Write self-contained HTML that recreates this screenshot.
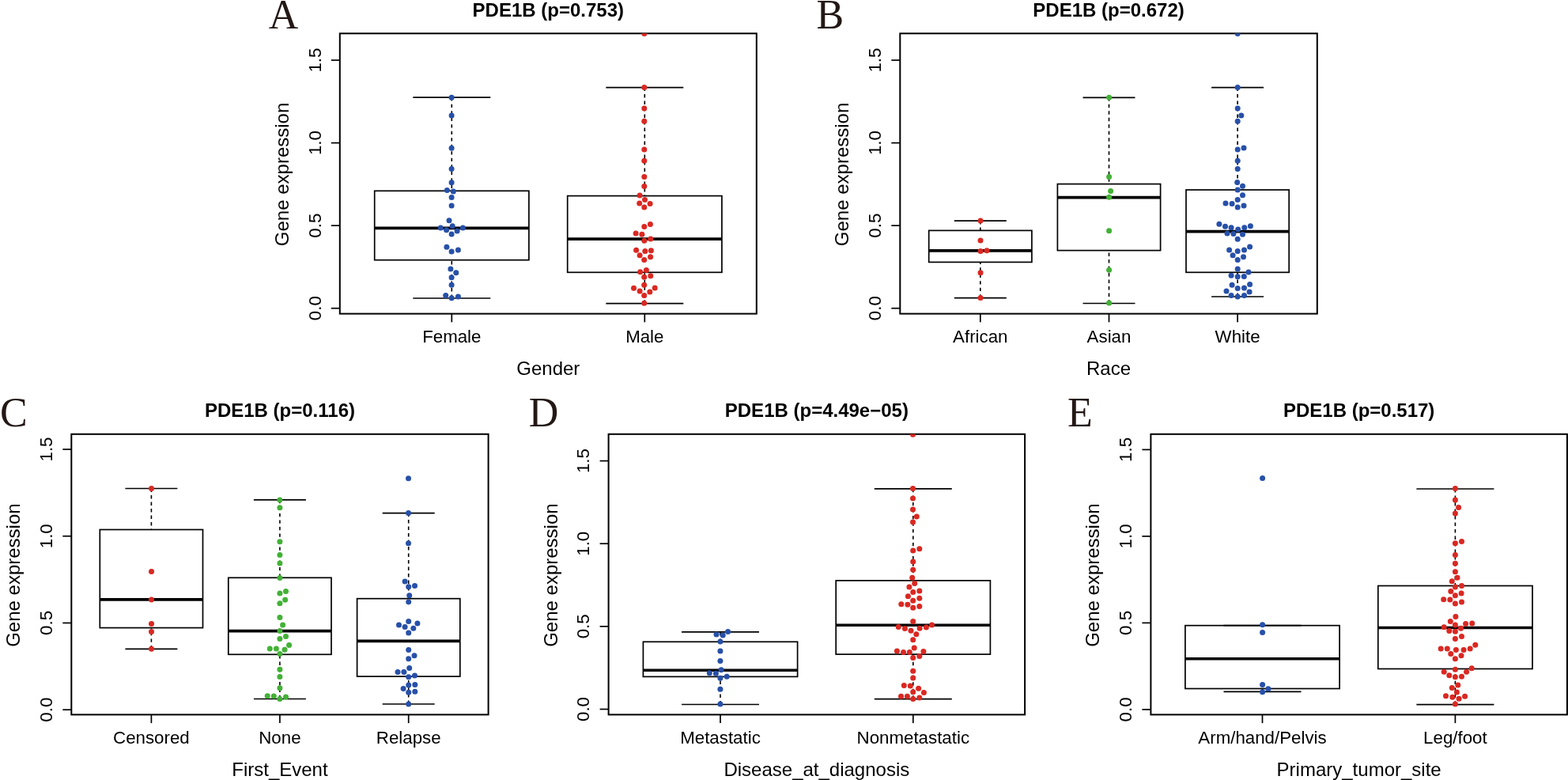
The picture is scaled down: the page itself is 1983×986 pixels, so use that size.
<!DOCTYPE html>
<html><head><meta charset="utf-8"><title>PDE1B boxplots</title>
<style>
html,body{margin:0;padding:0;background:#fff;}
svg{display:block;}
text{font-family:"Liberation Sans", Arial, Helvetica, sans-serif;fill:#000;}
.tl{font-size:22.3px;}
.ax{font-size:24px;}
.mt{font-size:24px;font-weight:bold;}
.lt{font-family:"Liberation Serif", "Times New Roman", serif;font-size:52px;fill:#231815;}
</style></head><body>
<svg width="1983" height="986" viewBox="0 0 1983 986">
<rect width="1983" height="986" fill="#fff"/>
<defs>
<clipPath id="clipA"><rect x="429.8" y="42.3" width="527" height="354.3"/></clipPath>
<clipPath id="clipB"><rect x="1138.3" y="42.3" width="527.5" height="354.3"/></clipPath>
<clipPath id="clipC"><rect x="90.3" y="548.8" width="527.3" height="354.6"/></clipPath>
<clipPath id="clipD"><rect x="769.6" y="548.8" width="526.5" height="354.6"/></clipPath>
<clipPath id="clipE"><rect x="1455.4" y="548.8" width="526.5" height="354.6"/></clipPath>
</defs>
<g id="panelA">
<text class="lt" x="339.7" y="35.5">A</text>
<text class="mt" x="693.3" y="20.7" text-anchor="middle">PDE1B (p=0.753)</text>
<line x1="571.3" y1="123.2" x2="571.3" y2="241.3" stroke="#000" stroke-width="1.6" stroke-dasharray="4.4 4.1"/>
<line x1="571.3" y1="377" x2="571.3" y2="328.7" stroke="#000" stroke-width="1.6" stroke-dasharray="4.4 4.1"/>
<line x1="522.3" y1="123.2" x2="620.3" y2="123.2" stroke="#000" stroke-width="1.7"/>
<line x1="522.3" y1="377" x2="620.3" y2="377" stroke="#000" stroke-width="1.7"/>
<rect x="473.7" y="241.3" width="195.2" height="87.4" fill="none" stroke="#000" stroke-width="1.7"/>
<line x1="473.7" y1="288.4" x2="668.9" y2="288.4" stroke="#000" stroke-width="3.6"/>
<line x1="815.3" y1="110.6" x2="815.3" y2="247.6" stroke="#000" stroke-width="1.6" stroke-dasharray="4.4 4.1"/>
<line x1="815.3" y1="383.7" x2="815.3" y2="344.3" stroke="#000" stroke-width="1.6" stroke-dasharray="4.4 4.1"/>
<line x1="766.3" y1="110.6" x2="864.3" y2="110.6" stroke="#000" stroke-width="1.7"/>
<line x1="766.3" y1="383.7" x2="864.3" y2="383.7" stroke="#000" stroke-width="1.7"/>
<rect x="717.7" y="247.6" width="195.2" height="96.7" fill="none" stroke="#000" stroke-width="1.7"/>
<line x1="717.7" y1="302.1" x2="912.9" y2="302.1" stroke="#000" stroke-width="3.6"/>
<rect x="429.8" y="42.3" width="527" height="354.3" fill="none" stroke="#000" stroke-width="2"/>
<line x1="418.8" y1="389.7" x2="429.8" y2="389.7" stroke="#000" stroke-width="1.7"/>
<text class="tl" transform="translate(405.5,389.7) rotate(-90) scale(1,1.03)" text-anchor="middle">0.0</text>
<line x1="418.8" y1="285.16" x2="429.8" y2="285.16" stroke="#000" stroke-width="1.7"/>
<text class="tl" transform="translate(405.5,285.16) rotate(-90) scale(1,1.03)" text-anchor="middle">0.5</text>
<line x1="418.8" y1="180.63" x2="429.8" y2="180.63" stroke="#000" stroke-width="1.7"/>
<text class="tl" transform="translate(405.5,180.63) rotate(-90) scale(1,1.03)" text-anchor="middle">1.0</text>
<line x1="418.8" y1="76.09" x2="429.8" y2="76.09" stroke="#000" stroke-width="1.7"/>
<text class="tl" transform="translate(405.5,76.09) rotate(-90) scale(1,1.03)" text-anchor="middle">1.5</text>
<line x1="571.3" y1="396.6" x2="571.3" y2="407.3" stroke="#000" stroke-width="1.7"/>
<text class="tl" transform="translate(571.3,433.2) scale(1,1.03)" text-anchor="middle">Female</text>
<line x1="815.3" y1="396.6" x2="815.3" y2="407.3" stroke="#000" stroke-width="1.7"/>
<text class="tl" transform="translate(815.3,433.2) scale(1,1.03)" text-anchor="middle">Male</text>
<text class="ax" x="693.3" y="473.9" text-anchor="middle">Gender</text>
<text class="ax" transform="translate(364.7,220.45) rotate(-90)" text-anchor="middle">Gene expression</text>
<g clip-path="url(#clipA)">
<circle cx="571.1" cy="123.2" r="3.5" fill="#2750a8"/>
<circle cx="571.1" cy="146.1" r="3.5" fill="#2750a8"/>
<circle cx="571.1" cy="187.2" r="3.5" fill="#2750a8"/>
<circle cx="571.1" cy="213.5" r="3.5" fill="#2750a8"/>
<circle cx="571.1" cy="230.7" r="3.5" fill="#2750a8"/>
<circle cx="565.4" cy="240.6" r="3.5" fill="#2750a8"/>
<circle cx="573.3" cy="241.9" r="3.5" fill="#2750a8"/>
<circle cx="571.1" cy="249.4" r="3.5" fill="#2750a8"/>
<circle cx="571.1" cy="260.1" r="3.5" fill="#2750a8"/>
<circle cx="568" cy="278.8" r="3.5" fill="#2750a8"/>
<circle cx="572.2" cy="285.7" r="3.5" fill="#2750a8"/>
<circle cx="557.3" cy="288" r="3.5" fill="#2750a8"/>
<circle cx="585.4" cy="288" r="3.5" fill="#2750a8"/>
<circle cx="564.6" cy="290.7" r="3.5" fill="#2750a8"/>
<circle cx="578.1" cy="292.1" r="3.5" fill="#2750a8"/>
<circle cx="571.1" cy="295.9" r="3.5" fill="#2750a8"/>
<circle cx="564.9" cy="312.3" r="3.5" fill="#2750a8"/>
<circle cx="571.1" cy="317.9" r="3.5" fill="#2750a8"/>
<circle cx="579.4" cy="316.1" r="3.5" fill="#2750a8"/>
<circle cx="569.9" cy="340" r="3.5" fill="#2750a8"/>
<circle cx="576.8" cy="344.7" r="3.5" fill="#2750a8"/>
<circle cx="571.1" cy="350.8" r="3.5" fill="#2750a8"/>
<circle cx="571.1" cy="360.2" r="3.5" fill="#2750a8"/>
<circle cx="563.7" cy="373.6" r="3.5" fill="#2750a8"/>
<circle cx="571.1" cy="376.7" r="3.5" fill="#2750a8"/>
<circle cx="579.4" cy="375" r="3.5" fill="#2750a8"/>
<circle cx="814.8" cy="42.4" r="3.5" fill="#da2822"/>
<circle cx="814.8" cy="110.6" r="3.5" fill="#da2822"/>
<circle cx="814.8" cy="137" r="3.5" fill="#da2822"/>
<circle cx="814.8" cy="153.3" r="3.5" fill="#da2822"/>
<circle cx="814.8" cy="189" r="3.5" fill="#da2822"/>
<circle cx="814.8" cy="203.2" r="3.5" fill="#da2822"/>
<circle cx="814.8" cy="223.6" r="3.5" fill="#da2822"/>
<circle cx="814.8" cy="235.4" r="3.5" fill="#da2822"/>
<circle cx="809.1" cy="246.9" r="3.5" fill="#da2822"/>
<circle cx="815.5" cy="252.6" r="3.5" fill="#da2822"/>
<circle cx="808.7" cy="257.1" r="3.5" fill="#da2822"/>
<circle cx="822.1" cy="257.5" r="3.5" fill="#da2822"/>
<circle cx="814.8" cy="262.1" r="3.5" fill="#da2822"/>
<circle cx="822.4" cy="283.4" r="3.5" fill="#da2822"/>
<circle cx="814.8" cy="286.4" r="3.5" fill="#da2822"/>
<circle cx="804.1" cy="295.1" r="3.5" fill="#da2822"/>
<circle cx="811.9" cy="296.3" r="3.5" fill="#da2822"/>
<circle cx="822.8" cy="302.1" r="3.5" fill="#da2822"/>
<circle cx="814.8" cy="304.2" r="3.5" fill="#da2822"/>
<circle cx="804.6" cy="316.3" r="3.5" fill="#da2822"/>
<circle cx="815.8" cy="317.5" r="3.5" fill="#da2822"/>
<circle cx="823.4" cy="316.8" r="3.5" fill="#da2822"/>
<circle cx="809.1" cy="322.8" r="3.5" fill="#da2822"/>
<circle cx="822.6" cy="324.8" r="3.5" fill="#da2822"/>
<circle cx="814.7" cy="328.6" r="3.5" fill="#da2822"/>
<circle cx="809.6" cy="343.8" r="3.5" fill="#da2822"/>
<circle cx="817.4" cy="341.4" r="3.5" fill="#da2822"/>
<circle cx="814.7" cy="350.2" r="3.5" fill="#da2822"/>
<circle cx="822.8" cy="348.7" r="3.5" fill="#da2822"/>
<circle cx="814.7" cy="360.3" r="3.5" fill="#da2822"/>
<circle cx="801.5" cy="364.2" r="3.5" fill="#da2822"/>
<circle cx="828.2" cy="363.9" r="3.5" fill="#da2822"/>
<circle cx="809.1" cy="368" r="3.5" fill="#da2822"/>
<circle cx="821.8" cy="369" r="3.5" fill="#da2822"/>
<circle cx="814.7" cy="373.5" r="3.5" fill="#da2822"/>
<circle cx="814.7" cy="383.2" r="3.5" fill="#da2822"/>
</g>
</g>
<g id="panelB">
<text class="lt" x="1032.5" y="35.8">B</text>
<text class="mt" x="1402.05" y="20.7" text-anchor="middle">PDE1B (p=0.672)</text>
<line x1="1239.8" y1="279.1" x2="1239.8" y2="291.4" stroke="#000" stroke-width="1.6" stroke-dasharray="4.4 4.1"/>
<line x1="1239.8" y1="376.6" x2="1239.8" y2="331.4" stroke="#000" stroke-width="1.6" stroke-dasharray="4.4 4.1"/>
<line x1="1206.8" y1="279.1" x2="1272.8" y2="279.1" stroke="#000" stroke-width="1.7"/>
<line x1="1206.8" y1="376.6" x2="1272.8" y2="376.6" stroke="#000" stroke-width="1.7"/>
<rect x="1174.7" y="291.4" width="130.2" height="40" fill="none" stroke="#000" stroke-width="1.7"/>
<line x1="1174.7" y1="316.9" x2="1304.9" y2="316.9" stroke="#000" stroke-width="3.6"/>
<line x1="1402.5" y1="123.3" x2="1402.5" y2="232.6" stroke="#000" stroke-width="1.6" stroke-dasharray="4.4 4.1"/>
<line x1="1402.5" y1="383.5" x2="1402.5" y2="316.6" stroke="#000" stroke-width="1.6" stroke-dasharray="4.4 4.1"/>
<line x1="1369.5" y1="123.3" x2="1435.5" y2="123.3" stroke="#000" stroke-width="1.7"/>
<line x1="1369.5" y1="383.5" x2="1435.5" y2="383.5" stroke="#000" stroke-width="1.7"/>
<rect x="1337.4" y="232.6" width="130.2" height="84" fill="none" stroke="#000" stroke-width="1.7"/>
<line x1="1337.4" y1="249.6" x2="1467.6" y2="249.6" stroke="#000" stroke-width="3.6"/>
<line x1="1565.1" y1="110.6" x2="1565.1" y2="240" stroke="#000" stroke-width="1.6" stroke-dasharray="4.4 4.1"/>
<line x1="1565.1" y1="375" x2="1565.1" y2="344.3" stroke="#000" stroke-width="1.6" stroke-dasharray="4.4 4.1"/>
<line x1="1532.1" y1="110.6" x2="1598.1" y2="110.6" stroke="#000" stroke-width="1.7"/>
<line x1="1532.1" y1="375" x2="1598.1" y2="375" stroke="#000" stroke-width="1.7"/>
<rect x="1500" y="240" width="130.2" height="104.3" fill="none" stroke="#000" stroke-width="1.7"/>
<line x1="1500" y1="292.6" x2="1630.2" y2="292.6" stroke="#000" stroke-width="3.6"/>
<rect x="1138.3" y="42.3" width="527.5" height="354.3" fill="none" stroke="#000" stroke-width="2"/>
<line x1="1127.3" y1="389.7" x2="1138.3" y2="389.7" stroke="#000" stroke-width="1.7"/>
<text class="tl" transform="translate(1114,389.7) rotate(-90) scale(1,1.03)" text-anchor="middle">0.0</text>
<line x1="1127.3" y1="285.16" x2="1138.3" y2="285.16" stroke="#000" stroke-width="1.7"/>
<text class="tl" transform="translate(1114,285.16) rotate(-90) scale(1,1.03)" text-anchor="middle">0.5</text>
<line x1="1127.3" y1="180.63" x2="1138.3" y2="180.63" stroke="#000" stroke-width="1.7"/>
<text class="tl" transform="translate(1114,180.63) rotate(-90) scale(1,1.03)" text-anchor="middle">1.0</text>
<line x1="1127.3" y1="76.09" x2="1138.3" y2="76.09" stroke="#000" stroke-width="1.7"/>
<text class="tl" transform="translate(1114,76.09) rotate(-90) scale(1,1.03)" text-anchor="middle">1.5</text>
<line x1="1239.8" y1="396.6" x2="1239.8" y2="407.3" stroke="#000" stroke-width="1.7"/>
<text class="tl" transform="translate(1239.8,433.2) scale(1,1.03)" text-anchor="middle">African</text>
<line x1="1402.5" y1="396.6" x2="1402.5" y2="407.3" stroke="#000" stroke-width="1.7"/>
<text class="tl" transform="translate(1402.5,433.2) scale(1,1.03)" text-anchor="middle">Asian</text>
<line x1="1565.1" y1="396.6" x2="1565.1" y2="407.3" stroke="#000" stroke-width="1.7"/>
<text class="tl" transform="translate(1565.1,433.2) scale(1,1.03)" text-anchor="middle">White</text>
<text class="ax" x="1402.05" y="473.9" text-anchor="middle">Race</text>
<text class="ax" transform="translate(1073.2,220.45) rotate(-90)" text-anchor="middle">Gene expression</text>
<g clip-path="url(#clipB)">
<circle cx="1240" cy="279.1" r="3.5" fill="#da2822"/>
<circle cx="1240" cy="304.1" r="3.5" fill="#da2822"/>
<circle cx="1240" cy="317.6" r="3.5" fill="#da2822"/>
<circle cx="1248" cy="316.7" r="3.5" fill="#da2822"/>
<circle cx="1240" cy="344.7" r="3.5" fill="#da2822"/>
<circle cx="1240" cy="376.6" r="3.5" fill="#da2822"/>
<circle cx="1402.6" cy="123.2" r="3.5" fill="#43b136"/>
<circle cx="1402.6" cy="223.5" r="3.5" fill="#43b136"/>
<circle cx="1404.6" cy="241.6" r="3.5" fill="#43b136"/>
<circle cx="1402.6" cy="249.3" r="3.5" fill="#43b136"/>
<circle cx="1402.6" cy="291.8" r="3.5" fill="#43b136"/>
<circle cx="1402.6" cy="341.2" r="3.5" fill="#43b136"/>
<circle cx="1402.6" cy="382.9" r="3.5" fill="#43b136"/>
<circle cx="1565.2" cy="42.4" r="3.5" fill="#2750a8"/>
<circle cx="1565.2" cy="110.6" r="3.5" fill="#2750a8"/>
<circle cx="1565.2" cy="137" r="3.5" fill="#2750a8"/>
<circle cx="1569.8" cy="146.1" r="3.5" fill="#2750a8"/>
<circle cx="1565.2" cy="153.3" r="3.5" fill="#2750a8"/>
<circle cx="1565.2" cy="189.1" r="3.5" fill="#2750a8"/>
<circle cx="1573" cy="187" r="3.5" fill="#2750a8"/>
<circle cx="1565.2" cy="203.3" r="3.5" fill="#2750a8"/>
<circle cx="1565.2" cy="213.4" r="3.5" fill="#2750a8"/>
<circle cx="1564.7" cy="230.6" r="3.5" fill="#2750a8"/>
<circle cx="1571.5" cy="235.2" r="3.5" fill="#2750a8"/>
<circle cx="1565.2" cy="240" r="3.5" fill="#2750a8"/>
<circle cx="1571.5" cy="246.8" r="3.5" fill="#2750a8"/>
<circle cx="1565.2" cy="252.4" r="3.5" fill="#2750a8"/>
<circle cx="1550" cy="256.9" r="3.5" fill="#2750a8"/>
<circle cx="1558.1" cy="257.4" r="3.5" fill="#2750a8"/>
<circle cx="1565.2" cy="261.9" r="3.5" fill="#2750a8"/>
<circle cx="1573" cy="260" r="3.5" fill="#2750a8"/>
<circle cx="1541.9" cy="283.3" r="3.5" fill="#2750a8"/>
<circle cx="1549.5" cy="286.2" r="3.5" fill="#2750a8"/>
<circle cx="1557.1" cy="287.7" r="3.5" fill="#2750a8"/>
<circle cx="1565.7" cy="290.1" r="3.5" fill="#2750a8"/>
<circle cx="1573.8" cy="287.7" r="3.5" fill="#2750a8"/>
<circle cx="1581.4" cy="285.7" r="3.5" fill="#2750a8"/>
<circle cx="1552" cy="295.1" r="3.5" fill="#2750a8"/>
<circle cx="1559.9" cy="295.4" r="3.5" fill="#2750a8"/>
<circle cx="1571.5" cy="296.3" r="3.5" fill="#2750a8"/>
<circle cx="1565.2" cy="302.3" r="3.5" fill="#2750a8"/>
<circle cx="1554.6" cy="316.1" r="3.5" fill="#2750a8"/>
<circle cx="1565.2" cy="317.5" r="3.5" fill="#2750a8"/>
<circle cx="1573.5" cy="316.1" r="3.5" fill="#2750a8"/>
<circle cx="1580.6" cy="312.1" r="3.5" fill="#2750a8"/>
<circle cx="1559.1" cy="322.8" r="3.5" fill="#2750a8"/>
<circle cx="1572.5" cy="324.7" r="3.5" fill="#2750a8"/>
<circle cx="1565.2" cy="328.4" r="3.5" fill="#2750a8"/>
<circle cx="1565.2" cy="339.9" r="3.5" fill="#2750a8"/>
<circle cx="1579" cy="343.9" r="3.5" fill="#2750a8"/>
<circle cx="1557.1" cy="348.3" r="3.5" fill="#2750a8"/>
<circle cx="1565.2" cy="349.8" r="3.5" fill="#2750a8"/>
<circle cx="1573.3" cy="349.4" r="3.5" fill="#2750a8"/>
<circle cx="1558.1" cy="360.3" r="3.5" fill="#2750a8"/>
<circle cx="1565.2" cy="364.4" r="3.5" fill="#2750a8"/>
<circle cx="1573.5" cy="363.9" r="3.5" fill="#2750a8"/>
<circle cx="1580.6" cy="359.6" r="3.5" fill="#2750a8"/>
<circle cx="1551" cy="368" r="3.5" fill="#2750a8"/>
<circle cx="1580.1" cy="369" r="3.5" fill="#2750a8"/>
<circle cx="1557.1" cy="373.5" r="3.5" fill="#2750a8"/>
<circle cx="1565.2" cy="375" r="3.5" fill="#2750a8"/>
<circle cx="1573.5" cy="373.5" r="3.5" fill="#2750a8"/>
</g>
</g>
<g id="panelC">
<text class="lt" x="-0.1" y="539.4">C</text>
<text class="mt" x="353.95" y="527.2" text-anchor="middle">PDE1B (p=0.116)</text>
<line x1="191.4" y1="617.5" x2="191.4" y2="669.5" stroke="#000" stroke-width="1.6" stroke-dasharray="4.4 4.1"/>
<line x1="191.4" y1="820.3" x2="191.4" y2="793.6" stroke="#000" stroke-width="1.6" stroke-dasharray="4.4 4.1"/>
<line x1="158.4" y1="617.5" x2="224.4" y2="617.5" stroke="#000" stroke-width="1.7"/>
<line x1="158.4" y1="820.3" x2="224.4" y2="820.3" stroke="#000" stroke-width="1.7"/>
<rect x="126.3" y="669.5" width="130.2" height="124.1" fill="none" stroke="#000" stroke-width="1.7"/>
<line x1="126.3" y1="757.9" x2="256.5" y2="757.9" stroke="#000" stroke-width="3.6"/>
<line x1="353.9" y1="631.9" x2="353.9" y2="730.3" stroke="#000" stroke-width="1.6" stroke-dasharray="4.4 4.1"/>
<line x1="353.9" y1="883.5" x2="353.9" y2="827.3" stroke="#000" stroke-width="1.6" stroke-dasharray="4.4 4.1"/>
<line x1="320.9" y1="631.9" x2="386.9" y2="631.9" stroke="#000" stroke-width="1.7"/>
<line x1="320.9" y1="883.5" x2="386.9" y2="883.5" stroke="#000" stroke-width="1.7"/>
<rect x="288.8" y="730.3" width="130.2" height="97" fill="none" stroke="#000" stroke-width="1.7"/>
<line x1="288.8" y1="797.6" x2="419" y2="797.6" stroke="#000" stroke-width="3.6"/>
<line x1="516.7" y1="648.6" x2="516.7" y2="756.7" stroke="#000" stroke-width="1.6" stroke-dasharray="4.4 4.1"/>
<line x1="516.7" y1="890" x2="516.7" y2="855.1" stroke="#000" stroke-width="1.6" stroke-dasharray="4.4 4.1"/>
<line x1="483.7" y1="648.6" x2="549.7" y2="648.6" stroke="#000" stroke-width="1.7"/>
<line x1="483.7" y1="890" x2="549.7" y2="890" stroke="#000" stroke-width="1.7"/>
<rect x="451.6" y="756.7" width="130.2" height="98.4" fill="none" stroke="#000" stroke-width="1.7"/>
<line x1="451.6" y1="810.4" x2="581.8" y2="810.4" stroke="#000" stroke-width="3.6"/>
<rect x="90.3" y="548.8" width="527.3" height="354.6" fill="none" stroke="#000" stroke-width="2"/>
<line x1="79.3" y1="897.2" x2="90.3" y2="897.2" stroke="#000" stroke-width="1.7"/>
<text class="tl" transform="translate(66,897.2) rotate(-90) scale(1,1.03)" text-anchor="middle">0.0</text>
<line x1="79.3" y1="787.47" x2="90.3" y2="787.47" stroke="#000" stroke-width="1.7"/>
<text class="tl" transform="translate(66,787.47) rotate(-90) scale(1,1.03)" text-anchor="middle">0.5</text>
<line x1="79.3" y1="677.73" x2="90.3" y2="677.73" stroke="#000" stroke-width="1.7"/>
<text class="tl" transform="translate(66,677.73) rotate(-90) scale(1,1.03)" text-anchor="middle">1.0</text>
<line x1="79.3" y1="568" x2="90.3" y2="568" stroke="#000" stroke-width="1.7"/>
<text class="tl" transform="translate(66,568) rotate(-90) scale(1,1.03)" text-anchor="middle">1.5</text>
<line x1="191.4" y1="903.4" x2="191.4" y2="914.1" stroke="#000" stroke-width="1.7"/>
<text class="tl" transform="translate(191.4,940) scale(1,1.03)" text-anchor="middle">Censored</text>
<line x1="353.9" y1="903.4" x2="353.9" y2="914.1" stroke="#000" stroke-width="1.7"/>
<text class="tl" transform="translate(353.9,940) scale(1,1.03)" text-anchor="middle">None</text>
<line x1="516.7" y1="903.4" x2="516.7" y2="914.1" stroke="#000" stroke-width="1.7"/>
<text class="tl" transform="translate(516.7,940) scale(1,1.03)" text-anchor="middle">Relapse</text>
<text class="ax" x="353.95" y="980.7" text-anchor="middle">First_Event</text>
<text class="ax" transform="translate(25.2,727.1) rotate(-90)" text-anchor="middle">Gene expression</text>
<g clip-path="url(#clipC)">
<circle cx="191.5" cy="617.5" r="3.5" fill="#da2822"/>
<circle cx="191.5" cy="722.4" r="3.5" fill="#da2822"/>
<circle cx="191.5" cy="757.9" r="3.5" fill="#da2822"/>
<circle cx="191.5" cy="788.4" r="3.5" fill="#da2822"/>
<circle cx="191.5" cy="798.4" r="3.5" fill="#da2822"/>
<circle cx="191.5" cy="820.3" r="3.5" fill="#da2822"/>
<circle cx="353.9" cy="631.9" r="3.5" fill="#43b136"/>
<circle cx="353.9" cy="641.8" r="3.5" fill="#43b136"/>
<circle cx="353.9" cy="684.7" r="3.5" fill="#43b136"/>
<circle cx="353.9" cy="701.4" r="3.5" fill="#43b136"/>
<circle cx="353.9" cy="712.1" r="3.5" fill="#43b136"/>
<circle cx="353.9" cy="730.4" r="3.5" fill="#43b136"/>
<circle cx="353.9" cy="750.1" r="3.5" fill="#43b136"/>
<circle cx="361.5" cy="747.5" r="3.5" fill="#43b136"/>
<circle cx="360.6" cy="758.2" r="3.5" fill="#43b136"/>
<circle cx="353.9" cy="762.8" r="3.5" fill="#43b136"/>
<circle cx="353.9" cy="780.4" r="3.5" fill="#43b136"/>
<circle cx="357.6" cy="790" r="3.5" fill="#43b136"/>
<circle cx="353.9" cy="797.6" r="3.5" fill="#43b136"/>
<circle cx="353.9" cy="807.4" r="3.5" fill="#43b136"/>
<circle cx="361.5" cy="804.5" r="3.5" fill="#43b136"/>
<circle cx="365.6" cy="815.4" r="3.5" fill="#43b136"/>
<circle cx="341.3" cy="820" r="3.5" fill="#43b136"/>
<circle cx="349.4" cy="820" r="3.5" fill="#43b136"/>
<circle cx="360" cy="821.2" r="3.5" fill="#43b136"/>
<circle cx="353.9" cy="826.6" r="3.5" fill="#43b136"/>
<circle cx="353.9" cy="846.3" r="3.5" fill="#43b136"/>
<circle cx="353.9" cy="855.5" r="3.5" fill="#43b136"/>
<circle cx="353.9" cy="869.8" r="3.5" fill="#43b136"/>
<circle cx="338.2" cy="879.8" r="3.5" fill="#43b136"/>
<circle cx="346.3" cy="880.1" r="3.5" fill="#43b136"/>
<circle cx="353.9" cy="883.6" r="3.5" fill="#43b136"/>
<circle cx="361.5" cy="880.9" r="3.5" fill="#43b136"/>
<circle cx="516.5" cy="604.8" r="3.5" fill="#2750a8"/>
<circle cx="516.5" cy="648.6" r="3.5" fill="#2750a8"/>
<circle cx="516.5" cy="686.7" r="3.5" fill="#2750a8"/>
<circle cx="512.1" cy="735" r="3.5" fill="#2750a8"/>
<circle cx="516.7" cy="741.8" r="3.5" fill="#2750a8"/>
<circle cx="524.5" cy="740.6" r="3.5" fill="#2750a8"/>
<circle cx="517.7" cy="752.7" r="3.5" fill="#2750a8"/>
<circle cx="516.7" cy="760.9" r="3.5" fill="#2750a8"/>
<circle cx="516.7" cy="785.4" r="3.5" fill="#2750a8"/>
<circle cx="504.5" cy="790" r="3.5" fill="#2750a8"/>
<circle cx="527.9" cy="788" r="3.5" fill="#2750a8"/>
<circle cx="512.1" cy="792.5" r="3.5" fill="#2750a8"/>
<circle cx="522.8" cy="794.3" r="3.5" fill="#2750a8"/>
<circle cx="516.7" cy="800" r="3.5" fill="#2750a8"/>
<circle cx="516.7" cy="821.5" r="3.5" fill="#2750a8"/>
<circle cx="524" cy="828.7" r="3.5" fill="#2750a8"/>
<circle cx="516.7" cy="832.7" r="3.5" fill="#2750a8"/>
<circle cx="517.7" cy="844.6" r="3.5" fill="#2750a8"/>
<circle cx="503" cy="849.4" r="3.5" fill="#2750a8"/>
<circle cx="510.9" cy="849.4" r="3.5" fill="#2750a8"/>
<circle cx="516.7" cy="855.8" r="3.5" fill="#2750a8"/>
<circle cx="524.5" cy="854.1" r="3.5" fill="#2750a8"/>
<circle cx="516.7" cy="865.9" r="3.5" fill="#2750a8"/>
<circle cx="524.8" cy="865.6" r="3.5" fill="#2750a8"/>
<circle cx="510.1" cy="870.5" r="3.5" fill="#2750a8"/>
<circle cx="516.7" cy="875.3" r="3.5" fill="#2750a8"/>
<circle cx="524.8" cy="874.3" r="3.5" fill="#2750a8"/>
<circle cx="516.7" cy="890" r="3.5" fill="#2750a8"/>
</g>
</g>
<g id="panelD">
<text class="lt" x="668.7" y="538.6">D</text>
<text class="mt" x="1032.85" y="527.2" text-anchor="middle">PDE1B (p=4.49e−05)</text>
<line x1="911" y1="798.9" x2="911" y2="811.3" stroke="#000" stroke-width="1.6" stroke-dasharray="4.4 4.1"/>
<line x1="911" y1="890.5" x2="911" y2="855.4" stroke="#000" stroke-width="1.6" stroke-dasharray="4.4 4.1"/>
<line x1="862" y1="798.9" x2="960" y2="798.9" stroke="#000" stroke-width="1.7"/>
<line x1="862" y1="890.5" x2="960" y2="890.5" stroke="#000" stroke-width="1.7"/>
<rect x="813.4" y="811.3" width="195.2" height="44.1" fill="none" stroke="#000" stroke-width="1.7"/>
<line x1="813.4" y1="847.2" x2="1008.6" y2="847.2" stroke="#000" stroke-width="3.6"/>
<line x1="1154.8" y1="617.9" x2="1154.8" y2="733.9" stroke="#000" stroke-width="1.6" stroke-dasharray="4.4 4.1"/>
<line x1="1154.8" y1="883.7" x2="1154.8" y2="827.1" stroke="#000" stroke-width="1.6" stroke-dasharray="4.4 4.1"/>
<line x1="1105.8" y1="617.9" x2="1203.8" y2="617.9" stroke="#000" stroke-width="1.7"/>
<line x1="1105.8" y1="883.7" x2="1203.8" y2="883.7" stroke="#000" stroke-width="1.7"/>
<rect x="1057.2" y="733.9" width="195.2" height="93.2" fill="none" stroke="#000" stroke-width="1.7"/>
<line x1="1057.2" y1="790.3" x2="1252.4" y2="790.3" stroke="#000" stroke-width="3.6"/>
<rect x="769.6" y="548.8" width="526.5" height="354.6" fill="none" stroke="#000" stroke-width="2"/>
<line x1="758.6" y1="896.5" x2="769.6" y2="896.5" stroke="#000" stroke-width="1.7"/>
<text class="tl" transform="translate(745.3,896.5) rotate(-90) scale(1,1.03)" text-anchor="middle">0.0</text>
<line x1="758.6" y1="791.87" x2="769.6" y2="791.87" stroke="#000" stroke-width="1.7"/>
<text class="tl" transform="translate(745.3,791.87) rotate(-90) scale(1,1.03)" text-anchor="middle">0.5</text>
<line x1="758.6" y1="687.23" x2="769.6" y2="687.23" stroke="#000" stroke-width="1.7"/>
<text class="tl" transform="translate(745.3,687.23) rotate(-90) scale(1,1.03)" text-anchor="middle">1.0</text>
<line x1="758.6" y1="582.6" x2="769.6" y2="582.6" stroke="#000" stroke-width="1.7"/>
<text class="tl" transform="translate(745.3,582.6) rotate(-90) scale(1,1.03)" text-anchor="middle">1.5</text>
<line x1="911" y1="903.4" x2="911" y2="914.1" stroke="#000" stroke-width="1.7"/>
<text class="tl" transform="translate(911,940) scale(1,1.03)" text-anchor="middle">Metastatic</text>
<line x1="1154.8" y1="903.4" x2="1154.8" y2="914.1" stroke="#000" stroke-width="1.7"/>
<text class="tl" transform="translate(1154.8,940) scale(1,1.03)" text-anchor="middle">Nonmetastatic</text>
<text class="ax" x="1032.85" y="980.7" text-anchor="middle">Disease_at_diagnosis</text>
<text class="ax" transform="translate(704.5,727.1) rotate(-90)" text-anchor="middle">Gene expression</text>
<g clip-path="url(#clipD)">
<circle cx="920.6" cy="798.6" r="3.5" fill="#2750a8"/>
<circle cx="906" cy="802.1" r="3.5" fill="#2750a8"/>
<circle cx="914.2" cy="803.1" r="3.5" fill="#2750a8"/>
<circle cx="910.9" cy="811" r="3.5" fill="#2750a8"/>
<circle cx="910.9" cy="822.9" r="3.5" fill="#2750a8"/>
<circle cx="910.9" cy="835.4" r="3.5" fill="#2750a8"/>
<circle cx="912.1" cy="846.7" r="3.5" fill="#2750a8"/>
<circle cx="897.3" cy="850.8" r="3.5" fill="#2750a8"/>
<circle cx="905.4" cy="851.2" r="3.5" fill="#2750a8"/>
<circle cx="910.9" cy="857.3" r="3.5" fill="#2750a8"/>
<circle cx="919.2" cy="855.2" r="3.5" fill="#2750a8"/>
<circle cx="910.9" cy="871.2" r="3.5" fill="#2750a8"/>
<circle cx="910.9" cy="889.9" r="3.5" fill="#2750a8"/>
<circle cx="1154.5" cy="549.3" r="3.5" fill="#da2822"/>
<circle cx="1154.5" cy="617.6" r="3.5" fill="#da2822"/>
<circle cx="1154.5" cy="630.1" r="3.5" fill="#da2822"/>
<circle cx="1154.5" cy="644" r="3.5" fill="#da2822"/>
<circle cx="1159.3" cy="652.9" r="3.5" fill="#da2822"/>
<circle cx="1154.5" cy="659.9" r="3.5" fill="#da2822"/>
<circle cx="1154.7" cy="695.9" r="3.5" fill="#da2822"/>
<circle cx="1162.8" cy="693.8" r="3.5" fill="#da2822"/>
<circle cx="1154.7" cy="710.1" r="3.5" fill="#da2822"/>
<circle cx="1154.7" cy="720.2" r="3.5" fill="#da2822"/>
<circle cx="1153.7" cy="730.3" r="3.5" fill="#da2822"/>
<circle cx="1156.7" cy="737.4" r="3.5" fill="#da2822"/>
<circle cx="1149.9" cy="742" r="3.5" fill="#da2822"/>
<circle cx="1154.7" cy="748.4" r="3.5" fill="#da2822"/>
<circle cx="1162.8" cy="747.1" r="3.5" fill="#da2822"/>
<circle cx="1148.4" cy="753.8" r="3.5" fill="#da2822"/>
<circle cx="1162.8" cy="756.2" r="3.5" fill="#da2822"/>
<circle cx="1154.7" cy="759.2" r="3.5" fill="#da2822"/>
<circle cx="1139.8" cy="763.8" r="3.5" fill="#da2822"/>
<circle cx="1147.9" cy="764.3" r="3.5" fill="#da2822"/>
<circle cx="1154.7" cy="768.3" r="3.5" fill="#da2822"/>
<circle cx="1162.8" cy="766.5" r="3.5" fill="#da2822"/>
<circle cx="1154.7" cy="785.5" r="3.5" fill="#da2822"/>
<circle cx="1136.2" cy="792.6" r="3.5" fill="#da2822"/>
<circle cx="1144.4" cy="794.4" r="3.5" fill="#da2822"/>
<circle cx="1152" cy="797.2" r="3.5" fill="#da2822"/>
<circle cx="1163.1" cy="794.3" r="3.5" fill="#da2822"/>
<circle cx="1171.4" cy="793.1" r="3.5" fill="#da2822"/>
<circle cx="1178.5" cy="790.1" r="3.5" fill="#da2822"/>
<circle cx="1158.8" cy="801.7" r="3.5" fill="#da2822"/>
<circle cx="1154.7" cy="808.8" r="3.5" fill="#da2822"/>
<circle cx="1156.2" cy="819" r="3.5" fill="#da2822"/>
<circle cx="1134.4" cy="823" r="3.5" fill="#da2822"/>
<circle cx="1142.5" cy="824.5" r="3.5" fill="#da2822"/>
<circle cx="1150.3" cy="824.5" r="3.5" fill="#da2822"/>
<circle cx="1167.9" cy="823.5" r="3.5" fill="#da2822"/>
<circle cx="1154.7" cy="831.6" r="3.5" fill="#da2822"/>
<circle cx="1162.8" cy="829.6" r="3.5" fill="#da2822"/>
<circle cx="1154.7" cy="848.2" r="3.5" fill="#da2822"/>
<circle cx="1154.7" cy="857" r="3.5" fill="#da2822"/>
<circle cx="1143.3" cy="866.5" r="3.5" fill="#da2822"/>
<circle cx="1151.3" cy="866.9" r="3.5" fill="#da2822"/>
<circle cx="1161.6" cy="870.2" r="3.5" fill="#da2822"/>
<circle cx="1154.7" cy="874.8" r="3.5" fill="#da2822"/>
<circle cx="1168.4" cy="875.6" r="3.5" fill="#da2822"/>
<circle cx="1139.5" cy="880.3" r="3.5" fill="#da2822"/>
<circle cx="1147.4" cy="880.3" r="3.5" fill="#da2822"/>
<circle cx="1154.7" cy="883.4" r="3.5" fill="#da2822"/>
<circle cx="1162.8" cy="881.9" r="3.5" fill="#da2822"/>
</g>
</g>
<g id="panelE">
<text class="lt" x="1349.9" y="539">E</text>
<text class="mt" x="1718.65" y="527.2" text-anchor="middle">PDE1B (p=0.517)</text>
<line x1="1596.5" y1="874.3" x2="1596.5" y2="870.5" stroke="#000" stroke-width="1.6" stroke-dasharray="4.4 4.1"/>
<line x1="1547.5" y1="790.7" x2="1645.5" y2="790.7" stroke="#000" stroke-width="1.7"/>
<line x1="1547.5" y1="874.3" x2="1645.5" y2="874.3" stroke="#000" stroke-width="1.7"/>
<rect x="1498.9" y="790.7" width="195.2" height="79.8" fill="none" stroke="#000" stroke-width="1.7"/>
<line x1="1498.9" y1="832.7" x2="1694.1" y2="832.7" stroke="#000" stroke-width="3.6"/>
<line x1="1840.4" y1="618" x2="1840.4" y2="740.5" stroke="#000" stroke-width="1.6" stroke-dasharray="4.4 4.1"/>
<line x1="1840.4" y1="890.6" x2="1840.4" y2="845.5" stroke="#000" stroke-width="1.6" stroke-dasharray="4.4 4.1"/>
<line x1="1791.4" y1="618" x2="1889.4" y2="618" stroke="#000" stroke-width="1.7"/>
<line x1="1791.4" y1="890.6" x2="1889.4" y2="890.6" stroke="#000" stroke-width="1.7"/>
<rect x="1742.8" y="740.5" width="195.2" height="105" fill="none" stroke="#000" stroke-width="1.7"/>
<line x1="1742.8" y1="793.5" x2="1938" y2="793.5" stroke="#000" stroke-width="3.6"/>
<rect x="1455.4" y="548.8" width="526.5" height="354.6" fill="none" stroke="#000" stroke-width="2"/>
<line x1="1444.4" y1="896.9" x2="1455.4" y2="896.9" stroke="#000" stroke-width="1.7"/>
<text class="tl" transform="translate(1431.1,896.9) rotate(-90) scale(1,1.03)" text-anchor="middle">0.0</text>
<line x1="1444.4" y1="787.4" x2="1455.4" y2="787.4" stroke="#000" stroke-width="1.7"/>
<text class="tl" transform="translate(1431.1,787.4) rotate(-90) scale(1,1.03)" text-anchor="middle">0.5</text>
<line x1="1444.4" y1="677.9" x2="1455.4" y2="677.9" stroke="#000" stroke-width="1.7"/>
<text class="tl" transform="translate(1431.1,677.9) rotate(-90) scale(1,1.03)" text-anchor="middle">1.0</text>
<line x1="1444.4" y1="568.4" x2="1455.4" y2="568.4" stroke="#000" stroke-width="1.7"/>
<text class="tl" transform="translate(1431.1,568.4) rotate(-90) scale(1,1.03)" text-anchor="middle">1.5</text>
<line x1="1596.5" y1="903.4" x2="1596.5" y2="914.1" stroke="#000" stroke-width="1.7"/>
<text class="tl" transform="translate(1596.5,940) scale(1,1.03)" text-anchor="middle">Arm/hand/Pelvis</text>
<line x1="1840.4" y1="903.4" x2="1840.4" y2="914.1" stroke="#000" stroke-width="1.7"/>
<text class="tl" transform="translate(1840.4,940) scale(1,1.03)" text-anchor="middle">Leg/foot</text>
<text class="ax" x="1718.65" y="980.7" text-anchor="middle">Primary_tumor_site</text>
<text class="ax" transform="translate(1390.3,727.1) rotate(-90)" text-anchor="middle">Gene expression</text>
<g clip-path="url(#clipE)">
<circle cx="1596.6" cy="604.6" r="3.5" fill="#2750a8"/>
<circle cx="1596.6" cy="789.8" r="3.5" fill="#2750a8"/>
<circle cx="1596.6" cy="799.5" r="3.5" fill="#2750a8"/>
<circle cx="1596.6" cy="865.5" r="3.5" fill="#2750a8"/>
<circle cx="1603.9" cy="870.8" r="3.5" fill="#2750a8"/>
<circle cx="1596.6" cy="874.7" r="3.5" fill="#2750a8"/>
<circle cx="1840.4" cy="617.4" r="3.5" fill="#da2822"/>
<circle cx="1840.4" cy="631.9" r="3.5" fill="#da2822"/>
<circle cx="1844.6" cy="641.6" r="3.5" fill="#da2822"/>
<circle cx="1840.4" cy="648.9" r="3.5" fill="#da2822"/>
<circle cx="1840.4" cy="686.8" r="3.5" fill="#da2822"/>
<circle cx="1848.5" cy="684.6" r="3.5" fill="#da2822"/>
<circle cx="1840.4" cy="701.5" r="3.5" fill="#da2822"/>
<circle cx="1840.4" cy="712.2" r="3.5" fill="#da2822"/>
<circle cx="1840.4" cy="722.8" r="3.5" fill="#da2822"/>
<circle cx="1843" cy="730.2" r="3.5" fill="#da2822"/>
<circle cx="1836.3" cy="734.8" r="3.5" fill="#da2822"/>
<circle cx="1840.4" cy="742.1" r="3.5" fill="#da2822"/>
<circle cx="1848.5" cy="740.5" r="3.5" fill="#da2822"/>
<circle cx="1834.8" cy="747.4" r="3.5" fill="#da2822"/>
<circle cx="1848.1" cy="750" r="3.5" fill="#da2822"/>
<circle cx="1840.4" cy="752.7" r="3.5" fill="#da2822"/>
<circle cx="1825.7" cy="757.8" r="3.5" fill="#da2822"/>
<circle cx="1833.8" cy="758.1" r="3.5" fill="#da2822"/>
<circle cx="1840.4" cy="762.9" r="3.5" fill="#da2822"/>
<circle cx="1848.5" cy="761" r="3.5" fill="#da2822"/>
<circle cx="1840.9" cy="779.6" r="3.5" fill="#da2822"/>
<circle cx="1834.3" cy="785.4" r="3.5" fill="#da2822"/>
<circle cx="1840.4" cy="789.9" r="3.5" fill="#da2822"/>
<circle cx="1853.6" cy="788.6" r="3.5" fill="#da2822"/>
<circle cx="1861.7" cy="787.9" r="3.5" fill="#da2822"/>
<circle cx="1826.2" cy="792.7" r="3.5" fill="#da2822"/>
<circle cx="1847.5" cy="794.2" r="3.5" fill="#da2822"/>
<circle cx="1832.8" cy="797.5" r="3.5" fill="#da2822"/>
<circle cx="1840.4" cy="798.2" r="3.5" fill="#da2822"/>
<circle cx="1848.5" cy="804.6" r="3.5" fill="#da2822"/>
<circle cx="1840.4" cy="807.4" r="3.5" fill="#da2822"/>
<circle cx="1865.8" cy="815.3" r="3.5" fill="#da2822"/>
<circle cx="1822.2" cy="820" r="3.5" fill="#da2822"/>
<circle cx="1830.3" cy="820" r="3.5" fill="#da2822"/>
<circle cx="1841.4" cy="821.4" r="3.5" fill="#da2822"/>
<circle cx="1851.1" cy="821.4" r="3.5" fill="#da2822"/>
<circle cx="1859.2" cy="820" r="3.5" fill="#da2822"/>
<circle cx="1834.8" cy="826.6" r="3.5" fill="#da2822"/>
<circle cx="1848" cy="828.7" r="3.5" fill="#da2822"/>
<circle cx="1840.4" cy="832.8" r="3.5" fill="#da2822"/>
<circle cx="1840.4" cy="846.2" r="3.5" fill="#da2822"/>
<circle cx="1861.2" cy="844.7" r="3.5" fill="#da2822"/>
<circle cx="1826.2" cy="849.2" r="3.5" fill="#da2822"/>
<circle cx="1854.6" cy="849.2" r="3.5" fill="#da2822"/>
<circle cx="1832.8" cy="853.8" r="3.5" fill="#da2822"/>
<circle cx="1840.4" cy="855.8" r="3.5" fill="#da2822"/>
<circle cx="1848.5" cy="855.3" r="3.5" fill="#da2822"/>
<circle cx="1843.8" cy="866" r="3.5" fill="#da2822"/>
<circle cx="1836.3" cy="869.6" r="3.5" fill="#da2822"/>
<circle cx="1842.4" cy="875.1" r="3.5" fill="#da2822"/>
<circle cx="1828.5" cy="879.7" r="3.5" fill="#da2822"/>
<circle cx="1836.9" cy="881.2" r="3.5" fill="#da2822"/>
<circle cx="1845.1" cy="883.2" r="3.5" fill="#da2822"/>
<circle cx="1852.6" cy="880.2" r="3.5" fill="#da2822"/>
<circle cx="1840.4" cy="890" r="3.5" fill="#da2822"/>
</g>
</g>
</svg>
</body></html>
